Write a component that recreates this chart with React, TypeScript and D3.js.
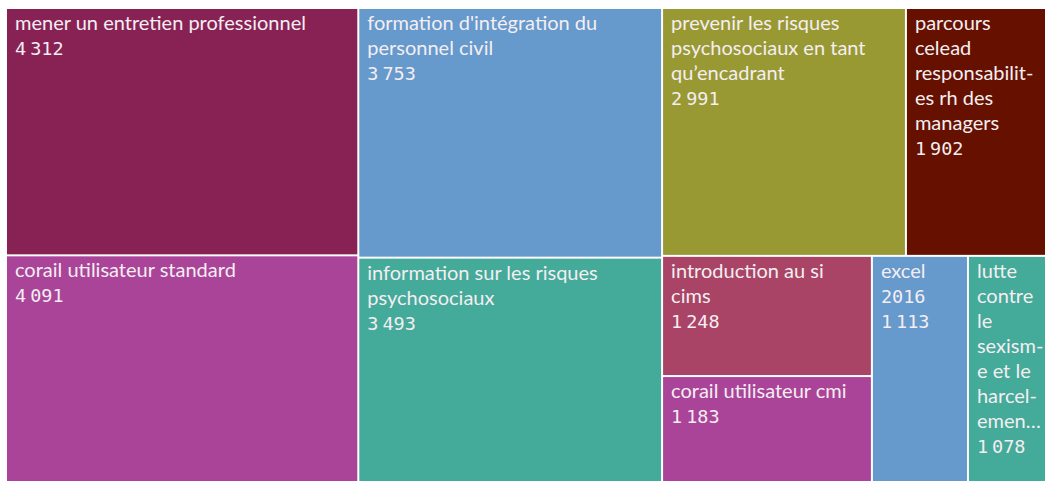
import React, {useEffect, useRef} from 'react';
import * as d3 from 'd3';

const names: string[] = [
  'mener un entretien professionnel',
  'corail utilisateur standard',
  "formation d'intégration du personnel civil",
  'information sur les risques psychosociaux',
  'prevenir les risques psychosociaux en tant qu’encadrant',
  'parcours celead responsabilites rh des managers',
  'introduction au si cims',
  'corail utilisateur cmi',
  'excel 2016',
  'lutte contre le sexisme et le harcelement sexuel',
];
const values: number[] = [4312, 4091, 3753, 3493, 2991, 1902, 1248, 1183, 1113, 1078];
const colors: string[] = [
  '#882255', '#aa4499', '#6699cc', '#44aa99', '#999933',
  '#661100', '#aa4466', '#aa4499', '#6699cc', '#44aa99',
];

interface Leaf {
  name: string;
  value: number;
  color: string;
}

const W = 1045;
const H = 481;
const labelFont = '20px Lato';
const numFont = '18.5px "DejaVu Sans Mono"';
const fmt = d3.formatLocale({decimal: ',', thousands: ' ', grouping: [3], currency: ['', '']}).format(',d');

const canvas = document.createElement('canvas');
const ctx = canvas.getContext('2d')!;
function measure(s: string): number {
  ctx.font = labelFont;
  return ctx.measureText(s).width;
}

function wrap(text: string, maxW: number, maxLines: number): string[] {
  const words = text.split(' ');
  const lines: string[] = [];
  let cur = '';
  for (const word of words) {
    const cand = cur ? cur + ' ' + word : word;
    if (measure(cand) <= maxW) {
      cur = cand;
      continue;
    }
    if (cur) lines.push(cur);
    let w = word;
    while (measure(w) > maxW) {
      let k = w.length - 1;
      while (k > 1 && measure(w.slice(0, k) + '-') > maxW) k--;
      lines.push(w.slice(0, k) + '-');
      w = w.slice(k);
    }
    cur = w;
  }
  if (cur) lines.push(cur);
  if (lines.length > maxLines) {
    let last = lines[maxLines - 1];
    while (last.length > 1 && measure(last + '…') > maxW) last = last.slice(0, -1);
    return lines.slice(0, maxLines - 1).concat(last + '…');
  }
  return lines;
}

export default function App() {
  const ref = useRef<SVGSVGElement>(null);

  useEffect(() => {
    const svg = d3.select(ref.current);
    svg.selectAll('*').remove();

    const left = 7;
    const top = 9;

    const leaves: Leaf[] = names.map((n, i) => ({name: n, value: values[i], color: colors[i]}));
    const root = d3
      .hierarchy<any>({children: leaves})
      .sum(d => d.value || 0);

    d3.treemap<any>()
      .tile(d3.treemapSquarify)
      .size([1053, 480])
      .paddingInner(2)(root);

    const chart = svg.append('g').attr('transform', `translate(${left},${top})`);

    const cell = chart
      .selectAll('g.cell')
      .data(root.leaves() as d3.HierarchyRectangularNode<any>[])
      .join('g')
      .attr('class', 'cell');

    cell
      .append('rect')
      .attr('x', d => d.x0)
      .attr('y', d => d.y0)
      .attr('width', d => d.x1 - d.x0)
      .attr('height', d => d.y1 - d.y0)
      .attr('fill', d => d.data.color);

    cell.each(function (d) {
      const g = d3.select(this);
      // wrap to the visible part of the tile
      const visibleRight = Math.min(d.x1, W - left);
      const lines = wrap(d.data.name, (visibleRight - d.x0) * 0.91, 7);
      const x = d.x0 + 8;
      const t = g.append('text').attr('fill', '#f4eef2').style('font', labelFont);
      lines.forEach((l, i) => {
        const isNum = /^\d+$/.test(l);
        t.append('tspan')
          .attr('x', x)
          .attr('y', d.y0 + 21 + i * 25)
          .style('font', isNum ? numFont : labelFont)
          .text(l);
      });
      const parts = fmt(d.data.value).split(' ');
      const num = g
        .append('text')
        .attr('x', x)
        .attr('y', d.y0 + 21 + lines.length * 25)
        .attr('fill', '#f4eef2')
        .style('font', numFont);
      parts.forEach((p, i) => {
        num.append('tspan').attr('dx', i ? 4 : 0).text(p);
      });
    });
  }, []);

  return (
    <svg
      ref={ref}
      width={W}
      height={H}
      style={{position: 'fixed', left: 0, top: 0, background: '#fff'}}
    />
  );
}
